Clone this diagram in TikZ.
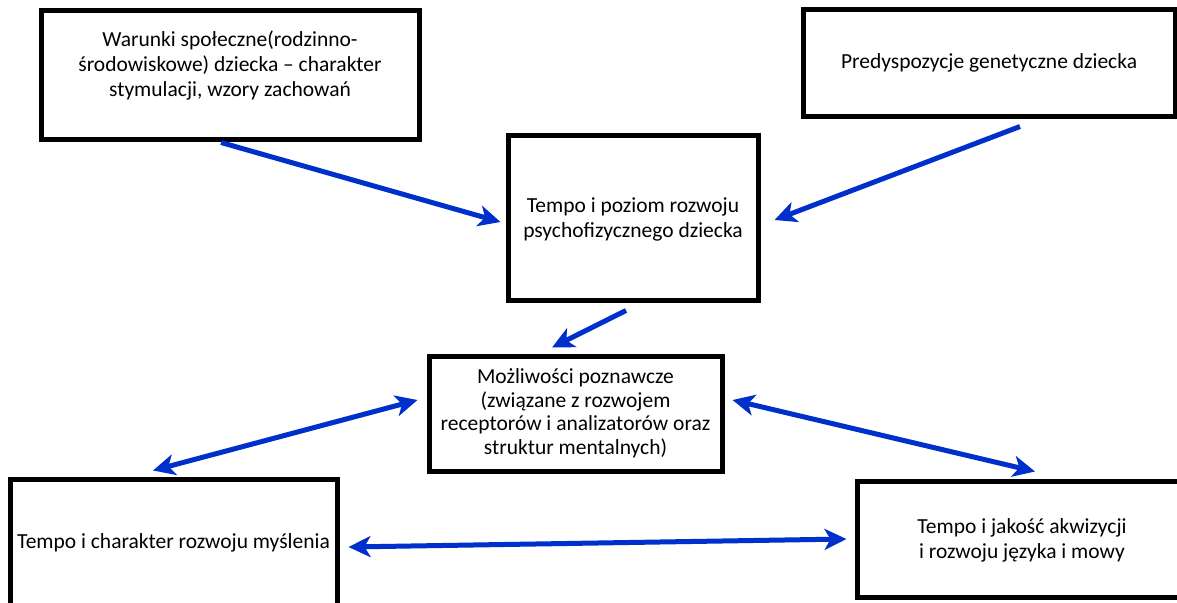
\documentclass[tikz,border=0pt]{standalone}
\usepackage{fontspec}
\setmainfont{Carlito}
\usetikzlibrary{arrows.meta,calc}
\definecolor{arrblue}{RGB}{0,48,204}

\begin{document}
\begin{tikzpicture}[x=1pt,y=-1pt,
box/.style={draw, line width=5pt, align=center, inner sep=0pt, font=\fontsize{21.5}{25}\selectfont},
link/.style={draw=arrblue, line width=5pt, -{Stealth[length=22pt,width=21pt,inset=6pt]}},
both/.style={link, {Stealth[length=22pt,width=21pt,inset=6pt]}-{Stealth[length=22pt,width=21pt,inset=6pt]}}
]
\useasboundingbox (0,0) rectangle (1177,602);

\node[box, minimum width=378pt, minimum height=128pt, text depth=23pt] (warunki) at (230,75)
  {Warunki społeczne(rodzinno-\\środowiskowe) dziecka -- charakter\\stymulacji, wzory zachowań};
\node[box, minimum width=372pt, minimum height=106pt] (predysp) at (989,63) {Predyspozycje genetyczne dziecka};
\node[box, minimum width=250pt, minimum height=165pt, text depth=0pt] (poziom) at (633,217.5)
  {Tempo i poziom rozwoju\\psychofizycznego dziecka};
\node[box, minimum width=293pt, minimum height=115pt, font=\fontsize{21.5}{23.5}\selectfont] (mozliwosci) at (575.5,413.5)
  {Możliwości poznawcze\\(związane z rozwojem\\receptorów i  analizatorów oraz\\struktur mentalnych)};
\node[box, minimum width=327pt, minimum height=128pt] (myslenie) at (173.5,543) {Tempo i charakter rozwoju myślenia};
\node[box, minimum width=330pt, minimum height=116pt, text depth=0pt] (jezyk) at (1022,539)
  {Tempo i jakość akwizycji\\i rozwoju języka i mowy};

\draw[link] ($(warunki.south)+(-9,1)$) -- ($(poziom.west)+(-5,4.5)$);
\draw[link] ($(predysp.south)+(31,8)$) -- ($(poziom.east)+(14,2.5)$);
\draw[link] ($(poziom.south)+(-7,8)$) -- ($(mozliwosci.north)+(-23.5,-6)$);
\draw[both] ($(mozliwosci.west)+(-9,-13.5)$) -- ($(myslenie.north)+(-20.5,-6)$);
\draw[both] ($(mozliwosci.east)+(8,-13.5)$) -- ($(jezyk.north)+(13,-7)$);
\draw[both] ($(myslenie.east)+(9,4)$) -- ($(jezyk.west)+(-8,0)$);
\end{tikzpicture}
\end{document}
